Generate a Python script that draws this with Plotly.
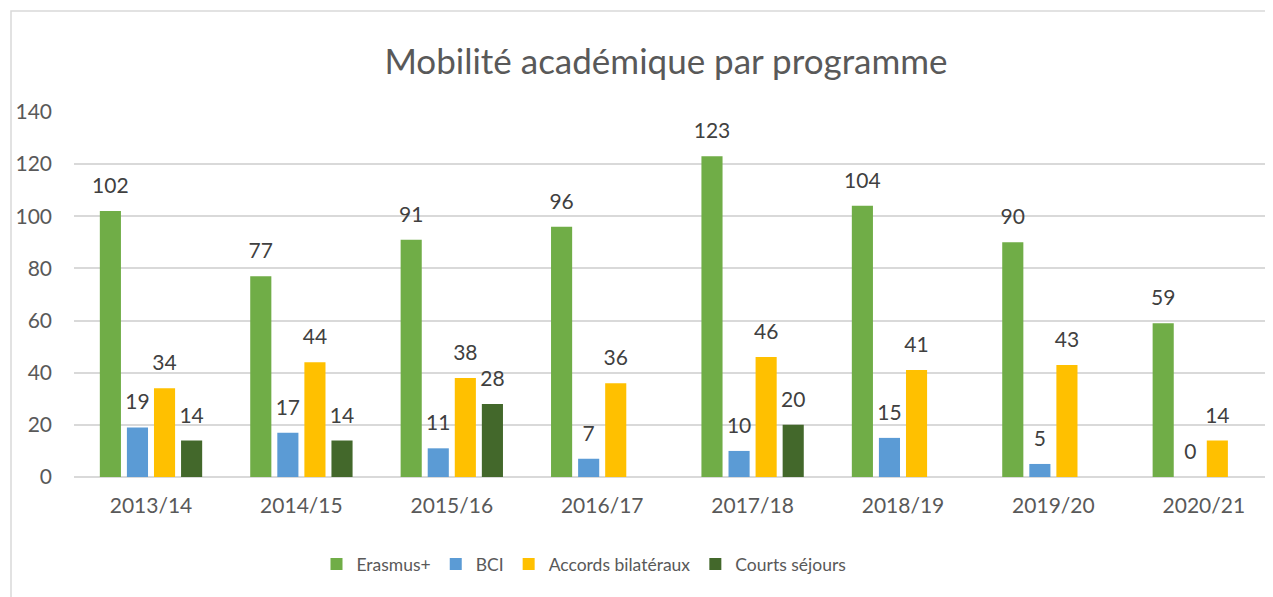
import plotly.graph_objects as go

categories = ["2013/14", "2014/15", "2015/16", "2016/17", "2017/18", "2018/19", "2019/20", "2020/21"]
erasmus = [102, 77, 91, 96, 123, 104, 90, 59]
bci = [19, 17, 11, 7, 10, 15, 5, 0]
accords = [34, 44, 38, 36, 46, 41, 43, 14]
courts = [14, 14, 28, None, 20, None, None, None]

series = [
    ("Erasmus+", erasmus, "#70AD47"),
    ("BCI", bci, "#5B9BD5"),
    ("Accords bilatéraux", accords, "#FFC000"),
    ("Courts séjours", courts, "#43682B"),
]

FONT = "Lato, Calibri, sans-serif"

fig = go.Figure()
for name, vals, col in series:
    fig.add_trace(go.Bar(
        name=name, x=categories, y=vals, marker=dict(color=col, line=dict(width=0)),
        text=[("" if v is None else str(v)) for v in vals],
        texttemplate="<span style='font-size:21px'>%{text}</span><br>&nbsp;",
        textposition="outside", cliponaxis=False, constraintext="none",
        textfont=dict(family=FONT, size=10, color="#404040"),
    ))

# page has an 8px body margin; figure coordinates are offset accordingly
OFF = 8
W, H = 1273 - OFF, 597 - OFF
L = 74 - OFF
T = 112 - OFF
B = H - (477 - OFF)
pw = W - L
ph = H - T - B

fig.update_layout(
    width=W, height=H,
    margin=dict(l=L, r=0, t=T, b=B, autoexpand=False),
    paper_bgcolor="white", plot_bgcolor="white",
    barmode="group", bargap=0.28, bargroupgap=0.22,
    title=dict(text="Mobilité académique par programme", x=(666 - 74) / pw, xanchor="center",
               xref="paper", y=1 - (62 - OFF) / H, yanchor="middle",
               font=dict(family=FONT, size=35, color="#595959")),
    font=dict(family=FONT, color="#595959"),
    legend=dict(orientation="h", x=(584 - 74) / pw, xanchor="center", y=(477 - 564) / ph,
                yanchor="middle", font=dict(family=FONT, size=17.5, color="#595959"),
                itemwidth=30, traceorder="normal"),
    showlegend=True,
)
fig.update_xaxes(range=[-(151 - 74) / 150.4, (1273 - 151) / 150.4], showgrid=False,
                 showline=False, ticks="", automargin=False,
                 tickfont=dict(family=FONT, size=21, color="#595959"),
                 ticklabelstandoff=14)
fig.update_yaxes(range=[0, 140], dtick=20, showgrid=True, gridcolor="#D9D9D9", gridwidth=1.5,
                 zeroline=True, zerolinecolor="#D9D9D9", zerolinewidth=1.5, showline=False,
                 automargin=False,
                 tickfont=dict(family=FONT, size=21, color="#595959"),
                 ticklabelstandoff=21)

# chart border
fig.add_shape(type="rect", xref="paper", yref="paper",
              x0=(11 - 74) / pw, x1=(1300 - 74) / pw,
              y0=(477 - 620) / ph, y1=(477 - 11) / ph,
              line=dict(color="#D9D9D9", width=1.5), fillcolor="rgba(0,0,0,0)", layer="below")

fig.write_html("out.html")
